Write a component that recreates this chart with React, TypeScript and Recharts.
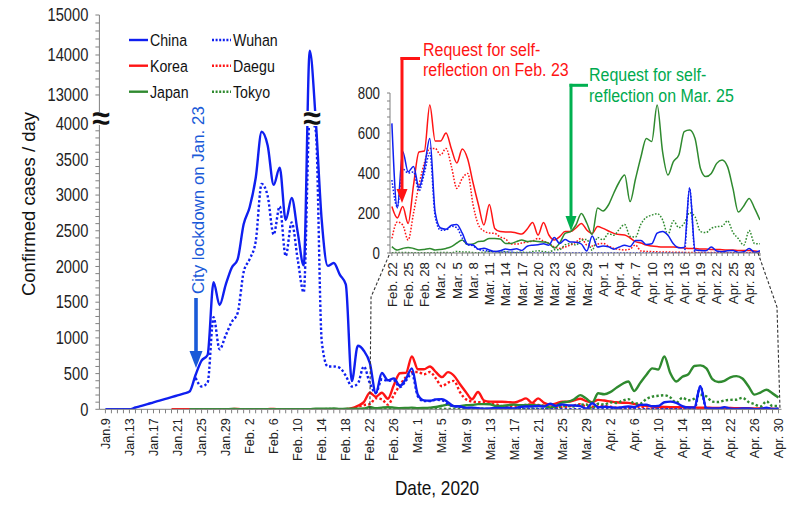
import React from "react";
import { LineChart, Line, XAxis, YAxis } from "recharts";

// ---------------- data (daily, Jan 9 – Apr 30, 2020) ----------------
const chinaJan = [0, 0, 0, 0, 0, 25, 48, 72, 98, 122, 146, 170, 195, 220, 248, 480, 680, 760, 1780, 1460, 1740, 1980, 2100];
const chinaFeb = [2590, 2829, 3235, 3887, 3694, 3143, 3385, 2652, 2960, 2478, 2015, 14108, 5090, 2641, 2009, 2048, 1886, 1749, 394, 889, 820, 648, 225, 508, 406, 433, 327, 427, 573];
const chinaMar = [202, 125, 119, 139, 143, 99, 44, 40, 19, 24, 15, 8, 11, 20, 16, 21, 13, 34, 39, 41, 46, 39, 78, 47, 67, 55, 54, 45, 10, 85, 30];
const chinaApr = [35, 31, 19, 30, 39, 32, 62, 63, 42, 46, 99, 108, 89, 46, 26, 27, 325, 16, 12, 11, 30, 10, 6, 11, 12, 3, 6, 22, 4, 12];

const wuhanJan = [null, null, null, null, null, null, null, null, null, null, null, null, null, null, null, 440, 320, 370, 1290, 840, 1032, 1220, 1347];
const wuhanFeb = [1921, 2103, 2345, 3156, 2987, 2447, 2841, 2147, 2618, 2097, 1638, 6000, 3900, 950, 600, 600, 580, 470, 320, 360, 600, 365, 230, 420, 400, 405, 310, 400, 500];
const wuhanMar = [180, 114, 115, 134, 126, 74, 41, 36, 17, 13, 8, 5, 4, 4, 4, 1, 1, 0, 0, 0, 0, 0, 1, 0, 0, 0, 0, 0, 0, 0, 0];
const wuhanApr = [0, 0, 0, 0, 0, 0, 0, 0, 0, 0, 0, 0, 0, 0, 0, 0, 325, 0, 0, 0, 0, 0, 0, 0, 0, 0, 0, 0, 0, 0];

const koreaJan = [null, null, null, null, null, null, null, null, null, null, null, 1, 0, 0, 0, 1, 0, 1, 1, 0, 0, 2, 5];
const koreaFeb = [1, 3, 0, 1, 2, 5, 1, 3, 3, 0, 1, 0, 0, 0, 0, 1, 1, 1, 15, 50, 100, 232, 175, 232, 148, 340, 505, 510, 740];
const koreaMar = [560, 560, 600, 520, 450, 520, 470, 350, 240, 140, 243, 123, 107, 105, 105, 100, 95, 120, 153, 90, 153, 90, 65, 82, 107, 107, 125, 148, 115, 98, 132];
const koreaApr = [123, 110, 98, 92, 90, 75, 57, 50, 40, 35, 32, 30, 30, 30, 28, 25, 22, 22, 20, 20, 18, 18, 16, 15, 15, 12, 12, 12, 10, 5];

const daeguJan = [null, null, null, null, null, null, null, null, null, null, null, null, null, null, null, null, null, null, null, null, null, null, null];
const daeguFeb = [null, null, null, null, null, null, null, null, null, null, null, null, null, null, null, null, null, 1, 10, 35, 60, 73, 155, 140, 65, 200, 340, 450, 523];
const daeguMar = [523, 490, 523, 432, 323, 373, 398, 240, 140, 110, 100, 98, 80, 70, 45, 45, 50, 55, 60, 73, 60, 48, 30, 23, 30, 40, 55, 73, 40, 35, 45];
const daeguApr = [48, 35, 23, 18, 15, 20, 40, 10, 8, 7, 6, 5, 5, 4, 4, 3, 3, 3, 2, 2, 2, 2, 2, 1, 1, 1, 1, 1, 1, 1];

const japanJan = [null, null, null, null, null, null, null, null, null, null, null, null, null, null, 0, 1, 1, 1, 0, 3, 1, 4, 3];
const japanFeb = [3, 0, 0, 3, 0, 1, 0, 0, 0, 0, 0, 1, 8, 8, 8, 12, 6, 7, 7, 9, 11, 32, 15, 23, 28, 23, 15, 18, 23];
const japanMar = [15, 18, 23, 32, 50, 65, 42, 45, 57, 60, 73, 73, 70, 48, 48, 57, 65, 57, 60, 57, 55, 48, 25, 50, 98, 107, 140, 198, 150, 93, 225];
const japanApr = [210, 240, 300, 355, 390, 257, 370, 480, 573, 557, 740, 507, 390, 457, 490, 607, 615, 573, 423, 382, 398, 448, 465, 432, 323, 205, 235, 273, 223, 165];

const tokyoJan = [null, null, null, null, null, null, null, null, null, null, null, null, null, null, null, 1, 0, 0, 0, 0, 1, 1, 0];
const tokyoFeb = [0, 0, 0, 0, 0, 0, 0, 0, 0, 0, 0, 0, 1, 1, 5, 2, 2, 3, 3, 3, 3, 1, 3, 3, 2, 1, 1, 1, 1];
const tokyoMar = [2, 3, 3, 1, 8, 5, 5, 2, 1, 4, 7, 8, 4, 7, 2, 3, 4, 2, 7, 11, 7, 4, 16, 17, 41, 47, 40, 63, 68, 13, 78];
const tokyoApr = [66, 97, 89, 118, 143, 83, 80, 144, 178, 189, 197, 166, 91, 161, 127, 149, 201, 181, 107, 102, 123, 132, 134, 161, 103, 72, 39, 112, 47, 46];

const MAIN_TICK_LABELS = ["Jan.9", "Jan.13", "Jan.17", "Jan.21", "Jan.25", "Jan.29", "Feb. 2", "Feb. 6", "Feb. 10", "Feb. 14", "Feb. 18", "Feb. 22", "Feb. 26", "Mar. 1", "Mar. 5", "Mar. 9", "Mar. 13", "Mar. 17", "Mar. 21", "Mar. 25", "Mar. 29", "Apr. 2", "Apr. 6", "Apr. 10", "Apr. 14", "Apr. 18", "Apr. 22", "Apr. 26", "Apr. 30"];
const INSET_TICK_LABELS = ["Feb. 22", "Feb. 25", "Feb. 28", "Mar. 2", "Mar. 5", "Mar. 8", "Mar. 11", "Mar. 14", "Mar. 17", "Mar. 20", "Mar. 23", "Mar. 26", "Mar. 29", "Apr. 1", "Apr. 4", "Apr. 7", "Apr. 10", "Apr. 13", "Apr. 16", "Apr. 19", "Apr. 22", "Apr. 25", "Apr. 28"];
const MAIN_Y_LABELS = [0, 500, 1000, 1500, 2000, 2500, 3000, 3500, 4000, 13000, 14000, 15000];
const INSET_Y_LABELS = [0, 200, 400, 600, 800];

// ---------------- styling / layout ----------------
const BLUE = "#0f1ff0";
const RED = "#ff1414";
const GREEN = "#2f8a2f";
const SANS = "'Liberation Sans', Arial, sans-serif";
const AXIS = "#808080";
const SQ = 0.85; // horizontal squeeze of upright text

const W = 795;
const H = 505;
const M_L = 99.4;
const M_R = 781.5;
const M_T = 15;
const M_B = 409.3;
const X_MIN = -1;
const X_MAX = 112.5;
const I_L = 390;
const I_R = 760;
const I_T = 93;
const I_B = 253;
const I_FIRST = 44; // Feb 22
const I_XMIN = 43.65;
const I_XMAX = 112;

// broken y axis (0-4000 | 13000-15000)
const BREAK_LO = 4000;
const BREAK_HI = 13000;
const GAP = 401.8;
const UPPER = 0.56;
const disp = (v: number | null) => {
  if (v === null || v === undefined) return null;
  if (v <= BREAK_LO) return v;
  if (v >= BREAK_HI) return BREAK_LO + GAP + (v - BREAK_HI) * UPPER;
  return BREAK_LO + ((v - BREAK_LO) / (BREAK_HI - BREAK_LO)) * GAP;
};
const Y_TOP = disp(15000) as number;

const china = [...chinaJan, ...chinaFeb, ...chinaMar, ...chinaApr];
const wuhan = [...wuhanJan, ...wuhanFeb, ...wuhanMar, ...wuhanApr];
const korea = [...koreaJan, ...koreaFeb, ...koreaMar, ...koreaApr];
const daegu = [...daeguJan, ...daeguFeb, ...daeguMar, ...daeguApr];
const japan = [...japanJan, ...japanFeb, ...japanMar, ...japanApr];
const tokyo = [...tokyoJan, ...tokyoFeb, ...tokyoMar, ...tokyoApr];

const SERIES = [
  { key: "korea", name: "Korea", color: RED, dotted: false, values: korea },
  { key: "daegu", name: "Daegu", color: RED, dotted: true, values: daegu },
  { key: "japan", name: "Japan", color: GREEN, dotted: false, values: japan },
  { key: "tokyo", name: "Tokyo", color: GREEN, dotted: true, values: tokyo },
  { key: "wuhan", name: "Wuhan", color: BLUE, dotted: true, values: wuhan },
  { key: "china", name: "China", color: BLUE, dotted: false, values: china },
];
const LEGEND_ROWS = [
  ["china", "wuhan"],
  ["korea", "daegu"],
  ["japan", "tokyo"],
];

const mainRows = china.map((_, i) => {
  const r: any = { i };
  SERIES.forEach((s) => (r[s.key] = disp(s.values[i] as any)));
  return r;
});
const insetRows = china
  .map((_, i) => {
    const r: any = { i };
    SERIES.forEach((s) => (r[s.key] = s.values[i]));
    return r;
  })
  .slice(I_FIRST);

const dayTicks = china.map((_, i) => i);
const insetDayTicks = dayTicks.slice(I_FIRST);

const mainYTicks: number[] = [];
const mainYLabel = new Map<number, string>();
for (let v = 0; v <= 4000; v += 100) mainYTicks.push(disp(v) as number);
for (let v = 13000; v <= 15000; v += 200) mainYTicks.push(disp(v) as number);
MAIN_Y_LABELS.forEach((v) => mainYLabel.set(disp(v) as number, String(v)));
const insetYTicks: number[] = [];
for (let v = 0; v <= 800; v += 40) insetYTicks.push(v);

const mainX = (i: number) => M_L + ((i - X_MIN) / (X_MAX - X_MIN)) * (M_R - M_L);

// upright text squeezed horizontally (reference glyphs are condensed)
const SqText = ({ x, y, sx = SQ, children, ...rest }: any) => (
  <g transform={`translate(${x},${y}) scale(${sx},1)`}>
    <text x={0} y={0} fontFamily={SANS} {...rest}>
      {children}
    </text>
  </g>
);

// ---------------- tick renderers ----------------
const MainXTick = (p: any) => {
  const { x, y, payload } = p;
  const k = payload.value;
  if (k % 4 !== 0) return <g />;
  return (
    <text x={x} y={y} transform={`rotate(-90, ${x}, ${y})`} textAnchor="end" dy="0.36em" fontSize={12.6} fontFamily={SANS} fill="#222">
      {MAIN_TICK_LABELS[k / 4]}
    </text>
  );
};
const InsetXTick = (p: any) => {
  const { x, y, payload } = p;
  const k = payload.value - I_FIRST;
  if (k % 3 !== 0) return <g />;
  return (
    <text x={x} y={y} transform={`rotate(-90, ${x}, ${y})`} textAnchor="end" dy="0.36em" fontSize={13.3} fontFamily={SANS} fill="#222">
      {INSET_TICK_LABELS[k / 3]}
    </text>
  );
};
const MainYTick = (p: any) => {
  const { x, y, payload } = p;
  const lbl = mainYLabel.get(payload.value);
  if (!lbl) return <g />;
  return (
    <SqText x={x} y={y} sx={0.84} textAnchor="end" dy="0.36em" fontSize={17.5} fill="#222">
      {lbl}
    </SqText>
  );
};
const InsetYTick = (p: any) => {
  const { x, y, payload } = p;
  if (!INSET_Y_LABELS.includes(payload.value)) return <g />;
  return (
    <SqText x={x} y={y} sx={0.83} textAnchor="end" dy="0.36em" fontSize={16} fill="#222">
      {payload.value}
    </SqText>
  );
};

const lineFor = (s: any, inset: boolean) => (
  <Line
    key={s.key}
    dataKey={s.key}
    type="monotone"
    stroke={s.color}
    strokeWidth={inset ? 1.5 : 2.4}
    strokeDasharray={s.dotted ? (inset ? "1.6 1.6" : "2.4 2.2") : undefined}
    dot={false}
    activeDot={false}
    isAnimationActive={false}
    connectNulls={false}
  />
);

const Arrow = ({ x, y1, y2, color, w, hw, hh, corner }: any) => (
  <g>
    {corner ? <line x1={x - w / 2} y1={y1} x2={corner} y2={y1} stroke={color} strokeWidth={w} /> : null}
    <line x1={x} y1={y1 - (corner ? w / 2 : 0)} x2={x} y2={y2 - hh + 1} stroke={color} strokeWidth={w} />
    <polygon points={`${x - hw},${y2 - hh} ${x + hw},${y2 - hh} ${x},${y2}`} fill={color} />
  </g>
);

export default function App() {
  const legendItem = (key: string, lx: number, ly: number) => {
    const s = SERIES.find((q) => q.key === key)!;
    return (
      <g key={key}>
        <line x1={lx} y1={ly} x2={lx + 19} y2={ly} stroke={s.color} strokeWidth={2.4} strokeDasharray={s.dotted ? "2 1.6" : undefined} />
        <SqText x={lx + 21} y={ly} sx={0.86} dy="0.36em" fontSize={16.5} fill="#111">
          {s.name}
        </SqText>
      </g>
    );
  };
  const legendYs = [40, 65.7, 91.7];

  const cx1 = mainX(I_FIRST);
  const cx2 = mainX(112);

  return (
    <div style={{ position: "absolute", left: 0, top: 0, width: W, height: H, background: "#fff" }}>
      <div style={{ position: "absolute", left: 0, top: 0 }}>
        <LineChart width={W} height={H} data={mainRows} margin={{ top: M_T, right: W - M_R, left: 0, bottom: H - M_B - 60 }}>
          <XAxis
            dataKey="i"
            type="number"
            domain={[X_MIN, X_MAX]}
            ticks={dayTicks}
            interval={0}
            height={60}
            tick={<MainXTick />}
            tickSize={4}
            tickMargin={5}
            stroke={AXIS}
            allowDataOverflow
          />
          <YAxis
            type="number"
            domain={[0, Y_TOP]}
            ticks={mainYTicks}
            interval={0}
            width={M_L}
            tick={<MainYTick />}
            tickSize={4}
            tickMargin={7}
            stroke={AXIS}
            allowDataOverflow
          />
          {SERIES.map((s) => lineFor(s, false))}
        </LineChart>
      </div>
      <div style={{ position: "absolute", left: 0, top: 0 }}>
        <LineChart width={W} height={H} data={insetRows} margin={{ top: I_T, right: W - I_R, left: I_L - 40, bottom: H - I_B - 50 }}>
          <XAxis
            dataKey="i"
            type="number"
            domain={[I_XMIN, I_XMAX]}
            ticks={insetDayTicks}
            interval={0}
            height={50}
            tick={<InsetXTick />}
            tickSize={3}
            tickMargin={6}
            stroke={AXIS}
            allowDataOverflow
          />
          <YAxis
            type="number"
            domain={[0, 800]}
            ticks={insetYTicks}
            interval={0}
            width={40}
            tick={<InsetYTick />}
            tickSize={3}
            tickMargin={7}
            stroke={AXIS}
            allowDataOverflow
          />
          {SERIES.map((s) => lineFor(s, true))}
        </LineChart>
      </div>
      <svg width={W} height={H} style={{ position: "absolute", left: 0, top: 0, pointerEvents: "none" }}>
        {/* axis titles */}
        <text transform={`rotate(-90, 28, 204)`} x={28} y={204} textAnchor="middle" dy="0.36em" fontSize={18.5} fontFamily={SANS} fill="#111">
          Confirmed cases / day
        </text>
        <SqText x={437} y={495} sx={0.82} textAnchor="middle" fontSize={21} fill="#111">
          Date, 2020
        </SqText>

        {/* legend */}
        {LEGEND_ROWS.map((row, r) => (
          <g key={r}>
            {legendItem(row[0], 129, legendYs[r])}
            {legendItem(row[1], 212, legendYs[r])}
          </g>
        ))}

        {/* axis break marks */}
        <rect x={93} y={112} width={15} height={13} fill="#fff" />
        <text x={101} y={129} textAnchor="middle" fontSize={32} fontWeight="bold" fontFamily={SANS} fill="#111">≈</text>
        <rect x={302} y={111} width={20} height={15} fill="#fff" />
        <text x={312} y={129} textAnchor="middle" fontSize={32} fontWeight="bold" fontFamily={SANS} fill="#111">≈</text>

        {/* zoom connectors */}
        <polyline points={`${cx1},${M_B} ${cx1 + 1.2},297 ${I_L},${I_B}`} fill="none" stroke="#333" strokeWidth={1.1} strokeDasharray="3 2" />
        <polyline points={`${I_R - 2},${I_B} 777,307 ${cx2 + 1.5},${M_B}`} fill="none" stroke="#333" strokeWidth={1.1} strokeDasharray="3 2" />

        {/* City lockdown */}
        <text transform={`rotate(-90, 198, 294)`} x={198} y={294} dy="0.36em" fontSize={16.9} fontFamily={SANS} fill="#1a5ad8">
          City lockdown on Jan. 23
        </text>
        <Arrow x={196} y1={298} y2={368} color="#1a5ad8" w={3.6} hw={6.5} hh={17} />

        {/* Korea annotation */}
        <SqText x={423} y={55.5} fontSize={18.6} sx={0.86} fill={RED}>Request for self-</SqText>
        <SqText x={423} y={76} fontSize={18.6} sx={0.86} fill={RED}>reflection on Feb. 23</SqText>
        <Arrow x={402} y1={58.5} y2={203} color={RED} w={3} hw={5.5} hh={14} corner={420} />

        {/* Japan annotation */}
        <SqText x={589} y={81} fontSize={18.6} sx={0.86} fill="#00aa4f">Request for self-</SqText>
        <SqText x={589} y={101.5} fontSize={18.6} sx={0.86} fill="#00aa4f">reflection on Mar. 25</SqText>
        <Arrow x={571} y1={85.3} y2={231} color="#00b050" w={3} hw={5.5} hh={15} corner={588} />
      </svg>
    </div>
  );
}
